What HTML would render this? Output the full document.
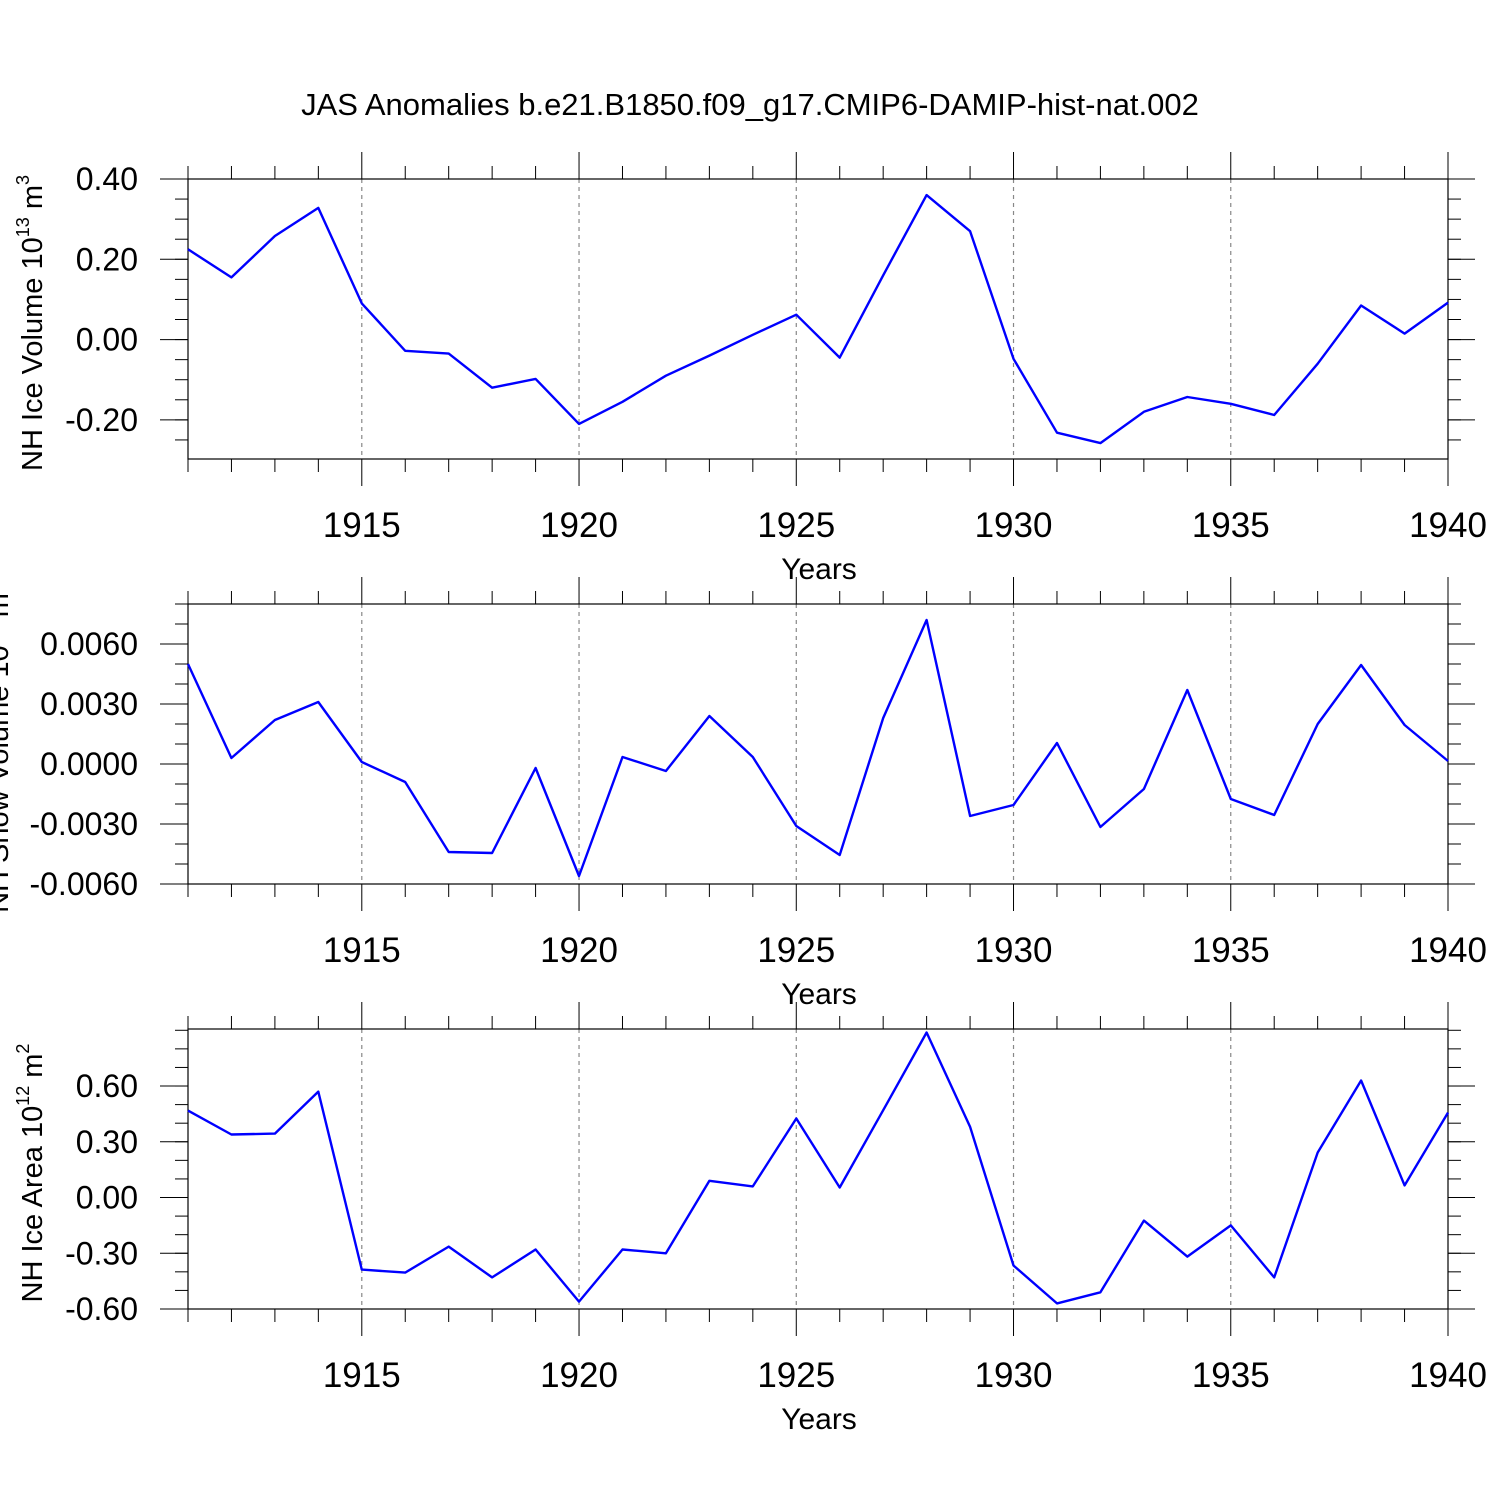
<!DOCTYPE html>
<html><head><meta charset="utf-8"><style>
html,body{margin:0;padding:0;background:#fff;}
svg{display:block;font-family:"Liberation Sans",Arial,sans-serif;}
</style></head><body>
<svg id="chart" width="1500" height="1500" viewBox="0 0 1500 1500" xmlns="http://www.w3.org/2000/svg">
<rect width="1500" height="1500" fill="#fff"/>
<text x="750" y="115" text-anchor="middle" font-size="31">JAS Anomalies b.e21.B1850.f09_g17.CMIP6-DAMIP-hist-nat.002</text>
</svg>
<script>
const years = [1911,1912,1913,1914,1915,1916,1917,1918,1919,1920,1921,1922,1923,1924,1925,1926,1927,1928,1929,1930,1931,1932,1933,1934,1935,1936,1937,1938,1939,1940];
const iceVolume = [0.225,0.155,0.258,0.328,0.09,-0.028,-0.035,-0.12,-0.098,-0.21,-0.155,-0.09,-0.04,0.012,0.062,-0.045,0.16,0.36,0.27,-0.048,-0.232,-0.258,-0.18,-0.143,-0.16,-0.188,-0.06,0.085,0.015,0.092];
const snowVolume = [0.0050,0.0003,0.0022,0.0031,0.0001,-0.0009,-0.0044,-0.00445,-0.0002,-0.0056,0.00035,-0.00035,0.0024,0.00035,-0.0031,-0.00455,0.0023,0.0072,-0.0026,-0.00205,0.00105,-0.00315,-0.00125,0.0037,-0.00175,-0.00255,0.002,0.00495,0.00195,0.00015];
const iceArea = [0.468,0.339,0.344,0.57,-0.388,-0.404,-0.264,-0.43,-0.28,-0.56,-0.28,-0.30,0.09,0.06,0.425,0.054,0.47,0.888,0.38,-0.366,-0.57,-0.51,-0.124,-0.318,-0.15,-0.43,0.242,0.63,0.065,0.457];
const xTicks = [1915,1920,1925,1930,1935,1940];
const volTicks = [0.4,0.2,0,-0.2];
const volLabels = ["0.40","0.20","0.00","-0.20"];
const snowTicks = [0.006,0.003,0,-0.003,-0.006];
const snowLabels = ["0.0060","0.0030","0.0000","-0.0030","-0.0060"];
const areaTicks = [0.6,0.3,0,-0.3,-0.6];
const areaLabels = ["0.60","0.30","0.00","-0.30","-0.60"];

const NS="http://www.w3.org/2000/svg";
const svg=document.getElementById('chart');
function mk(tag,attrs,parent){const e=document.createElementNS(NS,tag);for(const k in attrs)e.setAttribute(k,attrs[k]);(parent||svg).appendChild(e);return e;}
const X0=188,X1=1448;
function xs(y){return X0+(y-1911)*(X1-X0)/(1940-1911);}

function panel(opt){
  const g=mk('g',{});
  
  
  const top=opt.top,bot=opt.top+280;
  const ys=v=>top+(opt.ymax-v)/(opt.ymax-opt.ymin)*280;
  xTicks.forEach(t=>{if(t<1940){const l=mk('line',{x1:xs(t),x2:xs(t),y1:top,y2:bot,stroke:'#888','stroke-width':1.2,'stroke-dasharray':'4,4'},g);
    }});
  years.forEach(y=>{const maj=y%5==0;const len=maj?27:13;
    mk('line',{x1:xs(y),x2:xs(y),y1:top-len,y2:top,stroke:'#000','stroke-width':1},g);
    mk('line',{x1:xs(y),x2:xs(y),y1:bot,y2:bot+len,stroke:'#000','stroke-width':1},g);});
  xTicks.forEach(t=>{const tx=mk('text',{x:xs(t),y:bot+78,'text-anchor':'middle','font-size':35},g);tx.textContent=t;
    });
  for(let v=opt.minorStart;v>=opt.ymin-1e-9;v-=opt.minor){const y=ys(v);if(y<top-0.5||y>bot+0.5)continue;
    mk('line',{x1:X0-13,x2:X0,y1:y,y2:y,stroke:'#000','stroke-width':1},g);
    mk('line',{x1:X1,x2:X1+13,y1:y,y2:y,stroke:'#000','stroke-width':1},g);}
  opt.ticks.forEach((v,i)=>{const y=ys(v);
    mk('line',{x1:X0-28,x2:X0,y1:y,y2:y,stroke:'#000','stroke-width':1},g);
    mk('line',{x1:X1,x2:X1+27,y1:y,y2:y,stroke:'#000','stroke-width':1},g);
    const tx=mk('text',{x:138,y:y+11,'text-anchor':'end','font-size':32},g);tx.textContent=opt.labels[i];
    });
  const fr=mk('rect',{x:X0,y:top,width:X1-X0,height:280,fill:'none',stroke:'#000','stroke-width':1.2},g);
  
  const pts=years.map((y,i)=>xs(y).toFixed(1)+','+ys(opt.data[i]).toFixed(1)).join(' ');
  const pl=mk('polyline',{points:pts,fill:'none',stroke:'#0000ff','stroke-width':2.4,'stroke-linejoin':'round'},g);
  
  const xl=mk('text',{x:819,y:bot+120,'text-anchor':'middle','font-size':30},g);xl.textContent='Years';
  
  const yl=mk('text',{transform:`translate(${opt.lx},${top+144}) rotate(-90)`,'text-anchor':'middle','font-size':29},g);
  yl.innerHTML=opt.label+' 10<tspan font-size="18" dy="-13">'+opt.exp+'</tspan><tspan dy="13"> m</tspan><tspan font-size="18" dy="-13">'+opt.unit+'</tspan>';
  
}
panel({name:'ice-volume',top:179,ymax:0.40,ymin:-0.2975,ticks:volTicks,labels:volLabels,minor:0.05,minorStart:0.40,data:iceVolume,lx:42,label:'NH Ice Volume',exp:'13',unit:'3'});
panel({name:'snow-volume',top:604,ymax:0.008,ymin:-0.006,ticks:snowTicks,labels:snowLabels,minor:0.001,minorStart:0.008,data:snowVolume,lx:8,label:'NH Snow Volume',exp:'13',unit:'3'});
panel({name:'ice-area',top:1029,ymax:0.9069,ymin:-0.6,ticks:areaTicks,labels:areaLabels,minor:0.1,minorStart:0.9,data:iceArea,lx:42,label:'NH Ice Area',exp:'12',unit:'2'});
</script>
</body></html>
